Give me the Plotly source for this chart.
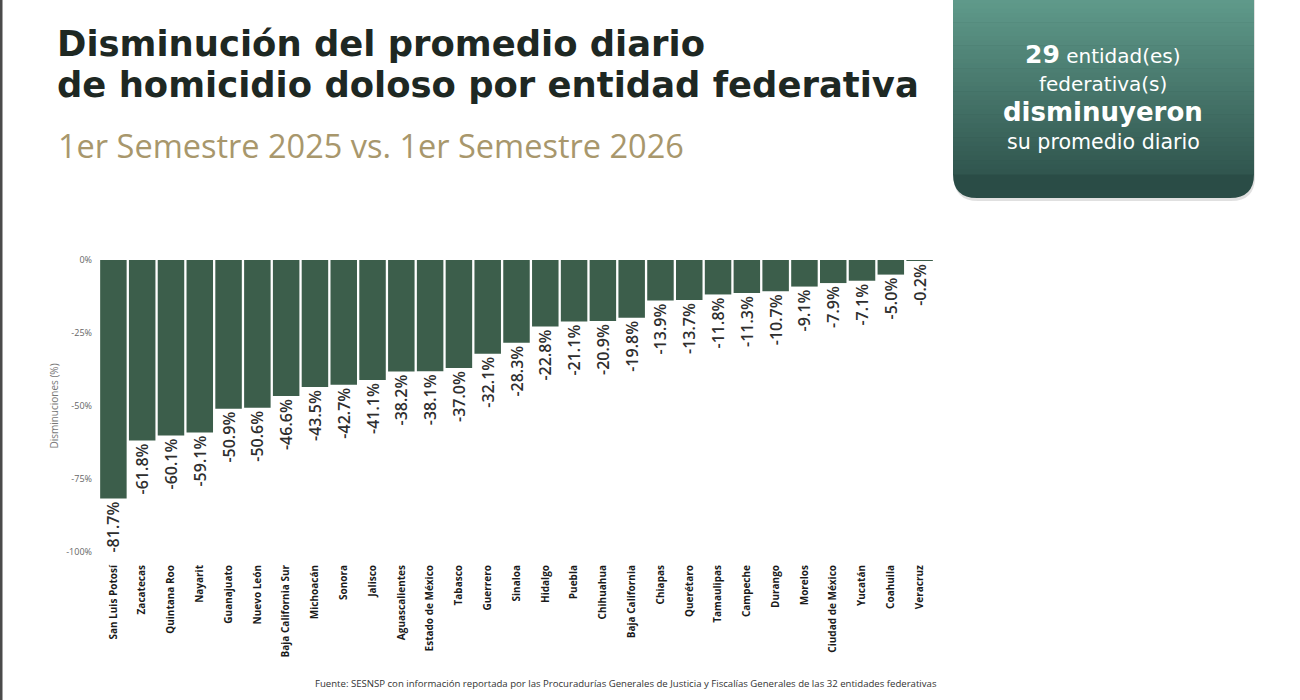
import plotly.graph_objects as go

states = ["San Luis Potosí", "Zacatecas", "Quintana Roo", "Nayarit", "Guanajuato",
          "Nuevo León", "Baja California Sur", "Michoacán", "Sonora", "Jalisco",
          "Aguascalientes", "Estado de México", "Tabasco", "Guerrero", "Sinaloa",
          "Hidalgo", "Puebla", "Chihuahua", "Baja California", "Chiapas",
          "Querétaro", "Tamaulipas", "Campeche", "Durango", "Morelos",
          "Ciudad de México", "Yucatán", "Coahuila", "Veracruz"]
values = [-81.7, -61.8, -60.1, -59.1, -50.9, -50.6, -46.6, -43.5, -42.7, -41.1,
          -38.2, -38.1, -37.0, -32.1, -28.3, -22.8, -21.1, -20.9, -19.8, -13.9,
          -13.7, -11.8, -11.3, -10.7, -9.1, -7.9, -7.1, -5.0, -0.2]
y_ticks = [0, -25, -50, -75, -100]
y_ticktext = ["0%", "-25%", "-50%", "-75%", "-100%"]

W_PX, H_PX = 1300, 700
L, R, T, B = 99, 934, 260, 552
PW, PH = R - L, B - T


def xp(px):
    return (px - L) / PW


def yp(py):
    return (B - py) / PH


FONT = "Open Sans"
HFONT = "DejaVu Sans"
BAR = "#3c5e4b"

fig = go.Figure()
fig.add_trace(go.Bar(
    x=states, y=values,
    marker=dict(color=BAR, line=dict(width=0)),
    text=[f"{v:.1f}%" for v in values],
    textposition="outside", textangle=-90,
    textfont=dict(family=FONT, size=16, color="#2e2e2e", weight=600),
    constraintext="none", cliponaxis=False,
    hoverinfo="x+y",
))

shapes = []
# left border line
shapes.append(dict(type="rect", xref="paper", yref="paper",
                   x0=xp(0), x1=xp(2.5), y0=yp(0), y1=yp(700),
                   fillcolor="#4a4a4a", line=dict(width=0), layer="above"))

# green gradient box
bx0, bx1, by0, by1, rad = 953, 1254, -10, 198, 24
top_c = (0x62, 0x9e, 0x8e)
bot_c = (0x2a, 0x4c, 0x46)
shapes.append(dict(type="path", xref="paper", yref="paper",
                   path=(f"M {xp(bx0+1)},{yp(by0)} L {xp(bx1+1)},{yp(by0)} "
                         f"L {xp(bx1+1)},{yp(by1+3-rad)} Q {xp(bx1+1)},{yp(by1+3)} {xp(bx1+1-rad)},{yp(by1+3)} "
                         f"L {xp(bx0+1+rad)},{yp(by1+3)} Q {xp(bx0+1)},{yp(by1+3)} {xp(bx0+1)},{yp(by1+3-rad)} Z"),
                   fillcolor="rgba(0,0,0,0.12)", line=dict(width=0), layer="below"))


def mix(t):
    return "rgb({},{},{})".format(*[round(a + (b - a) * t) for a, b in zip(top_c, bot_c)])


shapes.append(dict(type="path", xref="paper", yref="paper",
                   path=(f"M {xp(bx0)},{yp(by0)} L {xp(bx1)},{yp(by0)} "
                         f"L {xp(bx1)},{yp(by1-rad)} Q {xp(bx1)},{yp(by1)} {xp(bx1-rad)},{yp(by1)} "
                         f"L {xp(bx0+rad)},{yp(by1)} Q {xp(bx0)},{yp(by1)} {xp(bx0)},{yp(by1-rad)} Z"),
                   fillcolor=mix(1.0), line=dict(width=0), layer="below"))
N = 40
ymax = by1 - rad
for i in range(N):
    y_a = by0 + (ymax - by0) * i / N
    y_b = by0 + (ymax - by0) * (i + 1) / N + 0.6
    t = ((y_a + y_b) / 2 - by0) / (by1 - by0)
    shapes.append(dict(type="rect", xref="paper", yref="paper",
                       x0=xp(bx0), x1=xp(bx1), y0=yp(y_b), y1=yp(y_a),
                       fillcolor=mix(t), line=dict(width=0), layer="below"))

ann = []


def add_text(text, x, y, size, color, xanchor="left", weight=None, family=FONT):
    f = dict(family=family, size=size, color=color)
    if weight:
        f["weight"] = weight
    ann.append(dict(text=text, x=xp(x), y=yp(y), xref="paper", yref="paper",
                    xanchor=xanchor, yanchor="middle", showarrow=False, font=f))


add_text("Disminución del promedio diario", 55, 43, 35.4, "#1e2823", weight="bold", family=HFONT)
add_text("de homicidio doloso por entidad federativa", 55, 85, 35.4, "#1e2823", weight="bold", family=HFONT)
add_text("1er Semestre 2025 vs. 1er Semestre 2026", 56, 145, 32.5, "#a8976c")

cx = 1103
add_text("<b><span style='font-size:25px'>29</span></b> entidad(es)", cx, 54, 20, "white",
         xanchor="center", family=HFONT)
add_text("federativa(s)", cx, 84, 20, "white", xanchor="center", family=HFONT)
add_text("disminuyeron", cx, 112, 26, "white", xanchor="center", weight="bold", family=HFONT)
add_text("su promedio diario", cx, 142, 20.6, "white", xanchor="center", family=HFONT)

add_text("Fuente: SESNSP con información reportada por las Procuradurías Generales de Justicia y "
         "Fiscalías Generales de las 32 entidades federativas", 626, 683, 9.6, "#333333",
         xanchor="center")

fig.update_layout(
    width=W_PX, height=H_PX,
    margin=dict(l=L, r=W_PX - R, t=T, b=H_PX - B, pad=0),
    paper_bgcolor="white", plot_bgcolor="white",
    bargap=0.08, showlegend=False,
    shapes=shapes, annotations=ann,
    font=dict(family=FONT),
    xaxis=dict(tickangle=-90, tickfont=dict(family=FONT, size=10, color="#1a1a1a", weight="bold"),
               showgrid=False, zeroline=False, showline=False, ticks="",
               ticklabelstandoff=10, fixedrange=True),
    yaxis=dict(range=[-100, 0], tickvals=y_ticks, ticktext=y_ticktext,
               tickfont=dict(family=FONT, size=9, color="#666666"),
               showgrid=False, zeroline=False, showline=False, ticks="",
               ticklabelstandoff=6,
               title=dict(text="Disminuciones (%)", font=dict(family=FONT, size=10, color="#777777"),
                          standoff=5),
               fixedrange=True),
)

fig.write_html("out.html")
